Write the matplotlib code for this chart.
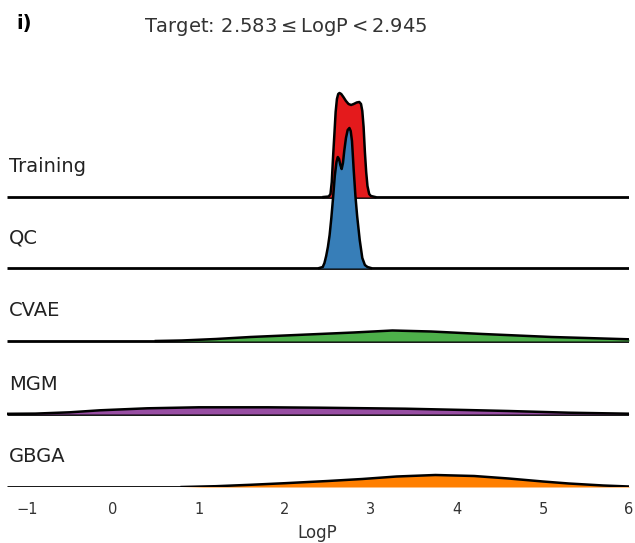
import matplotlib
matplotlib.use("Agg")
import matplotlib.pyplot as plt

# KDE curves (x = LogP, y = relative density)
names = ["Training", "QC", "CVAE", "MGM", "GBGA"]
colors = ["#e41a1c", "#377eb8", "#4daf4a", "#984ea3", "#ff7f00"]

train_x = [2.45, 2.51, 2.53, 2.545, 2.56, 2.575, 2.59, 2.605, 2.62, 2.635, 2.655, 2.68,
           2.71, 2.74, 2.77, 2.80, 2.835, 2.865, 2.885, 2.90, 2.915, 2.93, 2.945, 2.96,
           2.98, 3.0, 3.05]
train_y = [0.0, 0.005, 0.03, 0.15, 0.40, 0.62, 0.85, 0.98, 1.03, 1.04, 1.03, 1.00,
           0.96, 0.93, 0.92, 0.93, 0.945, 0.95, 0.93, 0.86, 0.70, 0.45, 0.25, 0.11,
           0.03, 0.01, 0.0]

qc_x = [2.40, 2.44, 2.46, 2.48, 2.50, 2.52, 2.54, 2.56, 2.58, 2.60, 2.615, 2.63, 2.645,
        2.66, 2.675, 2.69, 2.71, 2.73, 2.75, 2.765, 2.78, 2.80, 2.82, 2.84, 2.87, 2.90,
        2.93, 2.96, 3.0]
qc_y = [0.0, 0.01, 0.05, 0.12, 0.21, 0.33, 0.50, 0.70, 0.92, 1.06, 1.11, 1.09, 1.03,
        0.99, 1.05, 1.17, 1.30, 1.38, 1.40, 1.37, 1.27, 0.98, 0.72, 0.52, 0.28, 0.10,
        0.03, 0.01, 0.0]

cvae_x = [0.5, 0.8, 1.2, 1.6, 2.0, 2.4, 2.8, 3.25, 3.7, 4.3, 4.7, 5.1, 5.5, 6.0]
cvae_y = [0.0, 0.005, 0.02, 0.04, 0.055, 0.07, 0.085, 0.105, 0.095, 0.07, 0.055, 0.04, 0.03, 0.017]

mgm_x = [-1.23, -0.9, -0.5, -0.15, 0.4, 1.0, 1.8, 2.4, 3.4, 4.1, 4.6, 5.3, 6.0]
mgm_y = [0.002, 0.004, 0.017, 0.037, 0.057, 0.067, 0.067, 0.063, 0.053, 0.04, 0.03, 0.013, 0.003]

gbga_x = [0.8, 1.2, 1.6, 2.0, 2.5, 2.9, 3.3, 3.75, 4.2, 4.6, 5.0, 5.3, 5.7, 6.0]
gbga_y = [0.0, 0.008, 0.022, 0.038, 0.06, 0.08, 0.105, 0.12, 0.11, 0.085, 0.055, 0.035, 0.015, 0.005]

curves = [(train_x, train_y), (qc_x, qc_y), (cvae_x, cvae_y), (mgm_x, mgm_y), (gbga_x, gbga_y)]

fig = plt.figure(figsize=(6.35, 5.43), dpi=100)
ax = fig.add_axes([7 / 635, 56 / 543, 622 / 635, 487 / 543])
ax.set_xlim(-1.23, 6.0)
ax.set_ylim(0, 487)

scale = 100
offsets = [290, 219, 146, 73, 0]
for i, (name, col, (xs, ys)) in enumerate(zip(names, colors, curves)):
    off = offsets[i]
    z = 10 + 3 * i
    ax.axhline(off, color="black", lw=2.0, zorder=z, solid_capstyle="butt")
    top = [off + v * scale for v in ys]
    ax.fill_between(xs, off, top, color=col, lw=0, zorder=z + 1)
    ax.plot(xs, top, color="black", lw=1.8, zorder=z + 2, solid_joinstyle="round")
    ax.text(-1.21, off + 30, name, fontsize=14, va="center", ha="left", color="#222222")

for s in ax.spines.values():
    s.set_visible(False)
ax.set_yticks([])
ax.set_xticks(range(-1, 7))
ax.tick_params(axis="x", length=0, pad=11, labelsize=10.5, labelcolor="#333333")
ax.set_xlabel("LogP", fontsize=12, color="#333333")
ax.xaxis.set_label_coords(0.498, -0.075)

fig.text(286 / 635, 1 - 27 / 543, "Target: 2.583$\\leq$LogP$<$2.945", fontsize=14,
         ha="center", va="center", color="#333333")
fig.text(16 / 635, 1 - 24 / 543, "i)", fontsize=14, fontweight="bold", ha="left", va="center")

fig.savefig("out.png", dpi=100)
